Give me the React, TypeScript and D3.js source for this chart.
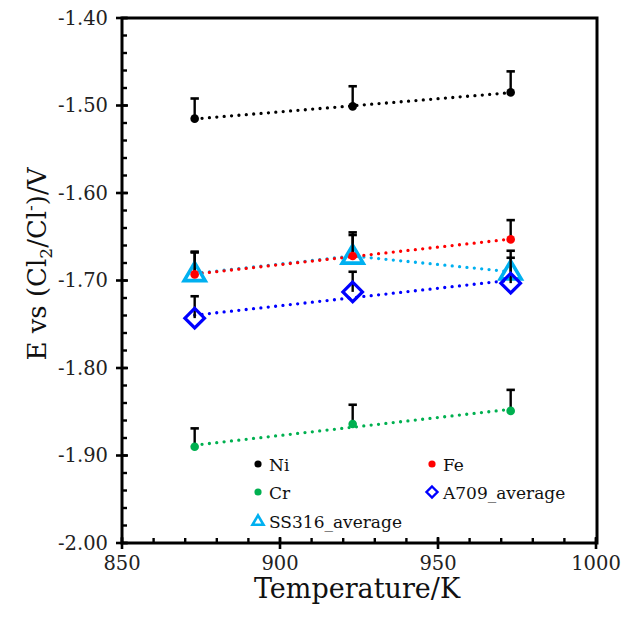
import React from "react";
import * as d3 from "d3";

const temps = [873, 923, 973];
const niValues = [-1.515, -1.501, -1.485];
const niErrors = [0.023, 0.023, 0.024];
const feValues = [-1.693, -1.672, -1.653];
const feErrors = [0.025, 0.024, 0.022];
const crValues = [-1.890, -1.864, -1.849];
const crErrors = [0.021, 0.022, 0.024];
const a709Values = [-1.743, -1.713, -1.703];
const a709Errors = [0.025, 0.023, 0.029];
const ss316Values = [-1.692, -1.672, -1.690];
const ss316Errors = [0.025, 0.027, 0.024];

const xTickValues = [850, 900, 950, 1000];
const yTickValues = [-2.0, -1.9, -1.8, -1.7, -1.6, -1.5, -1.4];

const W = 624;
const H = 620;
const FONT = "'DejaVu Serif', 'Liberation Serif', serif";

type Series = {
  name: string;
  values: number[];
  errors: number[];
  color: string;
  marker: "circle" | "diamond" | "triangle";
  trend: boolean;
};

const series: Series[] = [
  { name: "SS316_average", values: ss316Values, errors: ss316Errors, color: "#00B0F0", marker: "triangle", trend: false },
  { name: "Ni", values: niValues, errors: niErrors, color: "#000000", marker: "circle", trend: true },
  { name: "Fe", values: feValues, errors: feErrors, color: "#FF0000", marker: "circle", trend: true },
  { name: "Cr", values: crValues, errors: crErrors, color: "#00B050", marker: "circle", trend: true },
  { name: "A709_average", values: a709Values, errors: a709Errors, color: "#0000FF", marker: "diamond", trend: true },
];

const legendOrder = ["Ni", "Fe", "Cr", "A709_average", "SS316_average"];

function regression(xs: number[], ys: number[]) {
  const mx = d3.mean(xs) as number;
  const my = d3.mean(ys) as number;
  let num = 0;
  let den = 0;
  xs.forEach((x, i) => {
    num += (x - mx) * (ys[i] - my);
    den += (x - mx) * (x - mx);
  });
  const b = num / den;
  const a = my - b * mx;
  return (x: number) => a + b * x;
}

function Marker({ type, x, y, color, size }: { type: string; x: number; y: number; color: string; size: number }) {
  if (type === "circle") {
    return <circle cx={x} cy={y} r={size} fill={color} />;
  }
  if (type === "diamond") {
    const s = size;
    return (
      <path
        d={`M${x},${y - s}L${x + s},${y}L${x},${y + s}L${x - s},${y}Z`}
        fill="none"
        stroke={color}
        strokeWidth={size > 7 ? 3.2 : 2.4}
      />
    );
  }
  const s = size;
  const h = s * 1.7;
  return (
    <path
      d={`M${x},${y - h * 0.6}L${x + s},${y + h * 0.4}L${x - s},${y + h * 0.4}Z`}
      fill="none"
      stroke={color}
      strokeWidth={size > 7 ? 3.6 : 2.6}
      strokeLinejoin="miter"
    />
  );
}

export default function App() {
  const x = d3.scaleLinear().domain([850, 1000]).range([122, 596]);
  const y = d3.scaleLinear().domain([-2.0, -1.4]).range([543, 18]);

  const xMinor = d3.range(850, 1001, 10);
  const yMinor = d3.range(0, 31).map((i) => -2.0 + i * 0.02);

  const line = d3
    .line<[number, number]>()
    .x((d) => x(d[0]))
    .y((d) => y(d[1]));

  const dotted = { strokeDasharray: "0 7.4", strokeLinecap: "round" as const, strokeWidth: 3.3, fill: "none" };

  const legendPos: Record<string, [number, number]> = {
    Ni: [258, 465],
    Fe: [432, 465],
    Cr: [258, 493],
    A709_average: [432, 493],
    SS316_average: [258, 522],
  };

  return (
    <svg width={W} height={H} style={{ position: "absolute", left: 0, top: 0, background: "#fff" }}>
      <rect x={0} y={0} width={W} height={H} fill="#fff" />

      {/* lines */}
      {series.map((s) => {
        let pts: [number, number][];
        if (s.trend) {
          const f = regression(temps, s.values);
          pts = [
            [temps[0], f(temps[0])],
            [temps[temps.length - 1], f(temps[temps.length - 1])],
          ];
        } else {
          pts = temps.map((t, i) => [t, s.values[i]] as [number, number]);
        }
        return <path key={s.name + "-line"} d={line(pts) || ""} stroke={s.color} {...dotted} />;
      })}

      {/* error bars and markers */}
      {series.map((s) => (
        <g key={s.name}>
          {temps.map((t, i) => {
            const px = x(t);
            const py = y(s.values[i]);
            const top = y(s.values[i] + s.errors[i]);
            return (
              <g key={i}>
                <line x1={px} x2={px} y1={py} y2={top} stroke="#000" strokeWidth={2.4} />
                <line x1={px - 4.2} x2={px + 4.2} y1={top} y2={top} stroke="#000" strokeWidth={2.6} />
              </g>
            );
          })}
          {temps.map((t, i) => (
            <Marker
              key={"m" + i}
              type={s.marker}
              x={x(t)}
              y={y(s.values[i])}
              color={s.color}
              size={s.marker === "circle" ? 4.3 : s.marker === "diamond" ? 9.8 : 10.5}
            />
          ))}
        </g>
      ))}

      {/* frame */}
      <rect x={122} y={18} width={596 - 122 + 1} height={543 - 18} fill="none" stroke="#000" strokeWidth={3} />

      {/* y minor ticks */}
      {yMinor.map((v, i) => (
        <line key={"ym" + i} x1={x(850)} x2={x(850) + 5} y1={y(v)} y2={y(v)} stroke="#000" strokeWidth={2.4} />
      ))}
      {/* y major ticks */}
      {yTickValues.map((v) => (
        <g key={"y" + v}>
          <line x1={x(850) - 6} x2={x(850) + 6} y1={y(v)} y2={y(v)} stroke="#000" strokeWidth={2.6} />
          <text
            x={108}
            y={y(v)}
            dy="0.35em"
            textAnchor="end"
            fontFamily={FONT}
            fontSize={19.5}
            fill="#222"
          >
            {v.toFixed(2)}
          </text>
        </g>
      ))}

      {/* x minor ticks */}
      {xMinor.map((v) => (
        <line key={"xm" + v} x1={x(v)} x2={x(v)} y1={y(-2.0)} y2={y(-2.0) - 5} stroke="#000" strokeWidth={2.4} />
      ))}
      {xTickValues.map((v) => (
        <g key={"x" + v}>
          <line x1={x(v)} x2={x(v)} y1={y(-2.0) - 6} y2={y(-2.0) + 6} stroke="#000" strokeWidth={2.6} />
          <text x={x(v)} y={570} textAnchor="middle" fontFamily={FONT} fontSize={19.5} fill="#222">
            {v}
          </text>
        </g>
      ))}

      {/* axis titles */}
      <text x={357} y={598} textAnchor="middle" fontFamily={FONT} fontSize={27} fill="#111">
        Temperature/K
      </text>
      <text
        transform={`translate(46,264) rotate(-90)`}
        textAnchor="middle"
        fontFamily={FONT}
        fontSize={26}
        fill="#111"
      >
        E vs (Cl
        <tspan fontSize={17} dy={6}>2</tspan>
        <tspan dy={-6}>/Cl</tspan>
        <tspan fontSize={17} dy={-10}>-</tspan>
        <tspan dy={10}>)/V</tspan>
      </text>

      {/* legend */}
      {legendOrder.map((name) => {
        const s = series.find((d) => d.name === name)!;
        const [lx, ly] = legendPos[name];
        return (
          <g key={"lg" + name}>
            <Marker
              type={s.marker}
              x={lx}
              y={ly - 1}
              color={s.color}
              size={s.marker === "circle" ? 3.6 : s.marker === "diamond" ? 5.5 : 5.5}
            />
            <text x={lx + 11} y={ly} dy="0.35em" fontFamily={FONT} fontSize={17} fill="#111">
              {name}
            </text>
          </g>
        );
      })}
    </svg>
  );
}
